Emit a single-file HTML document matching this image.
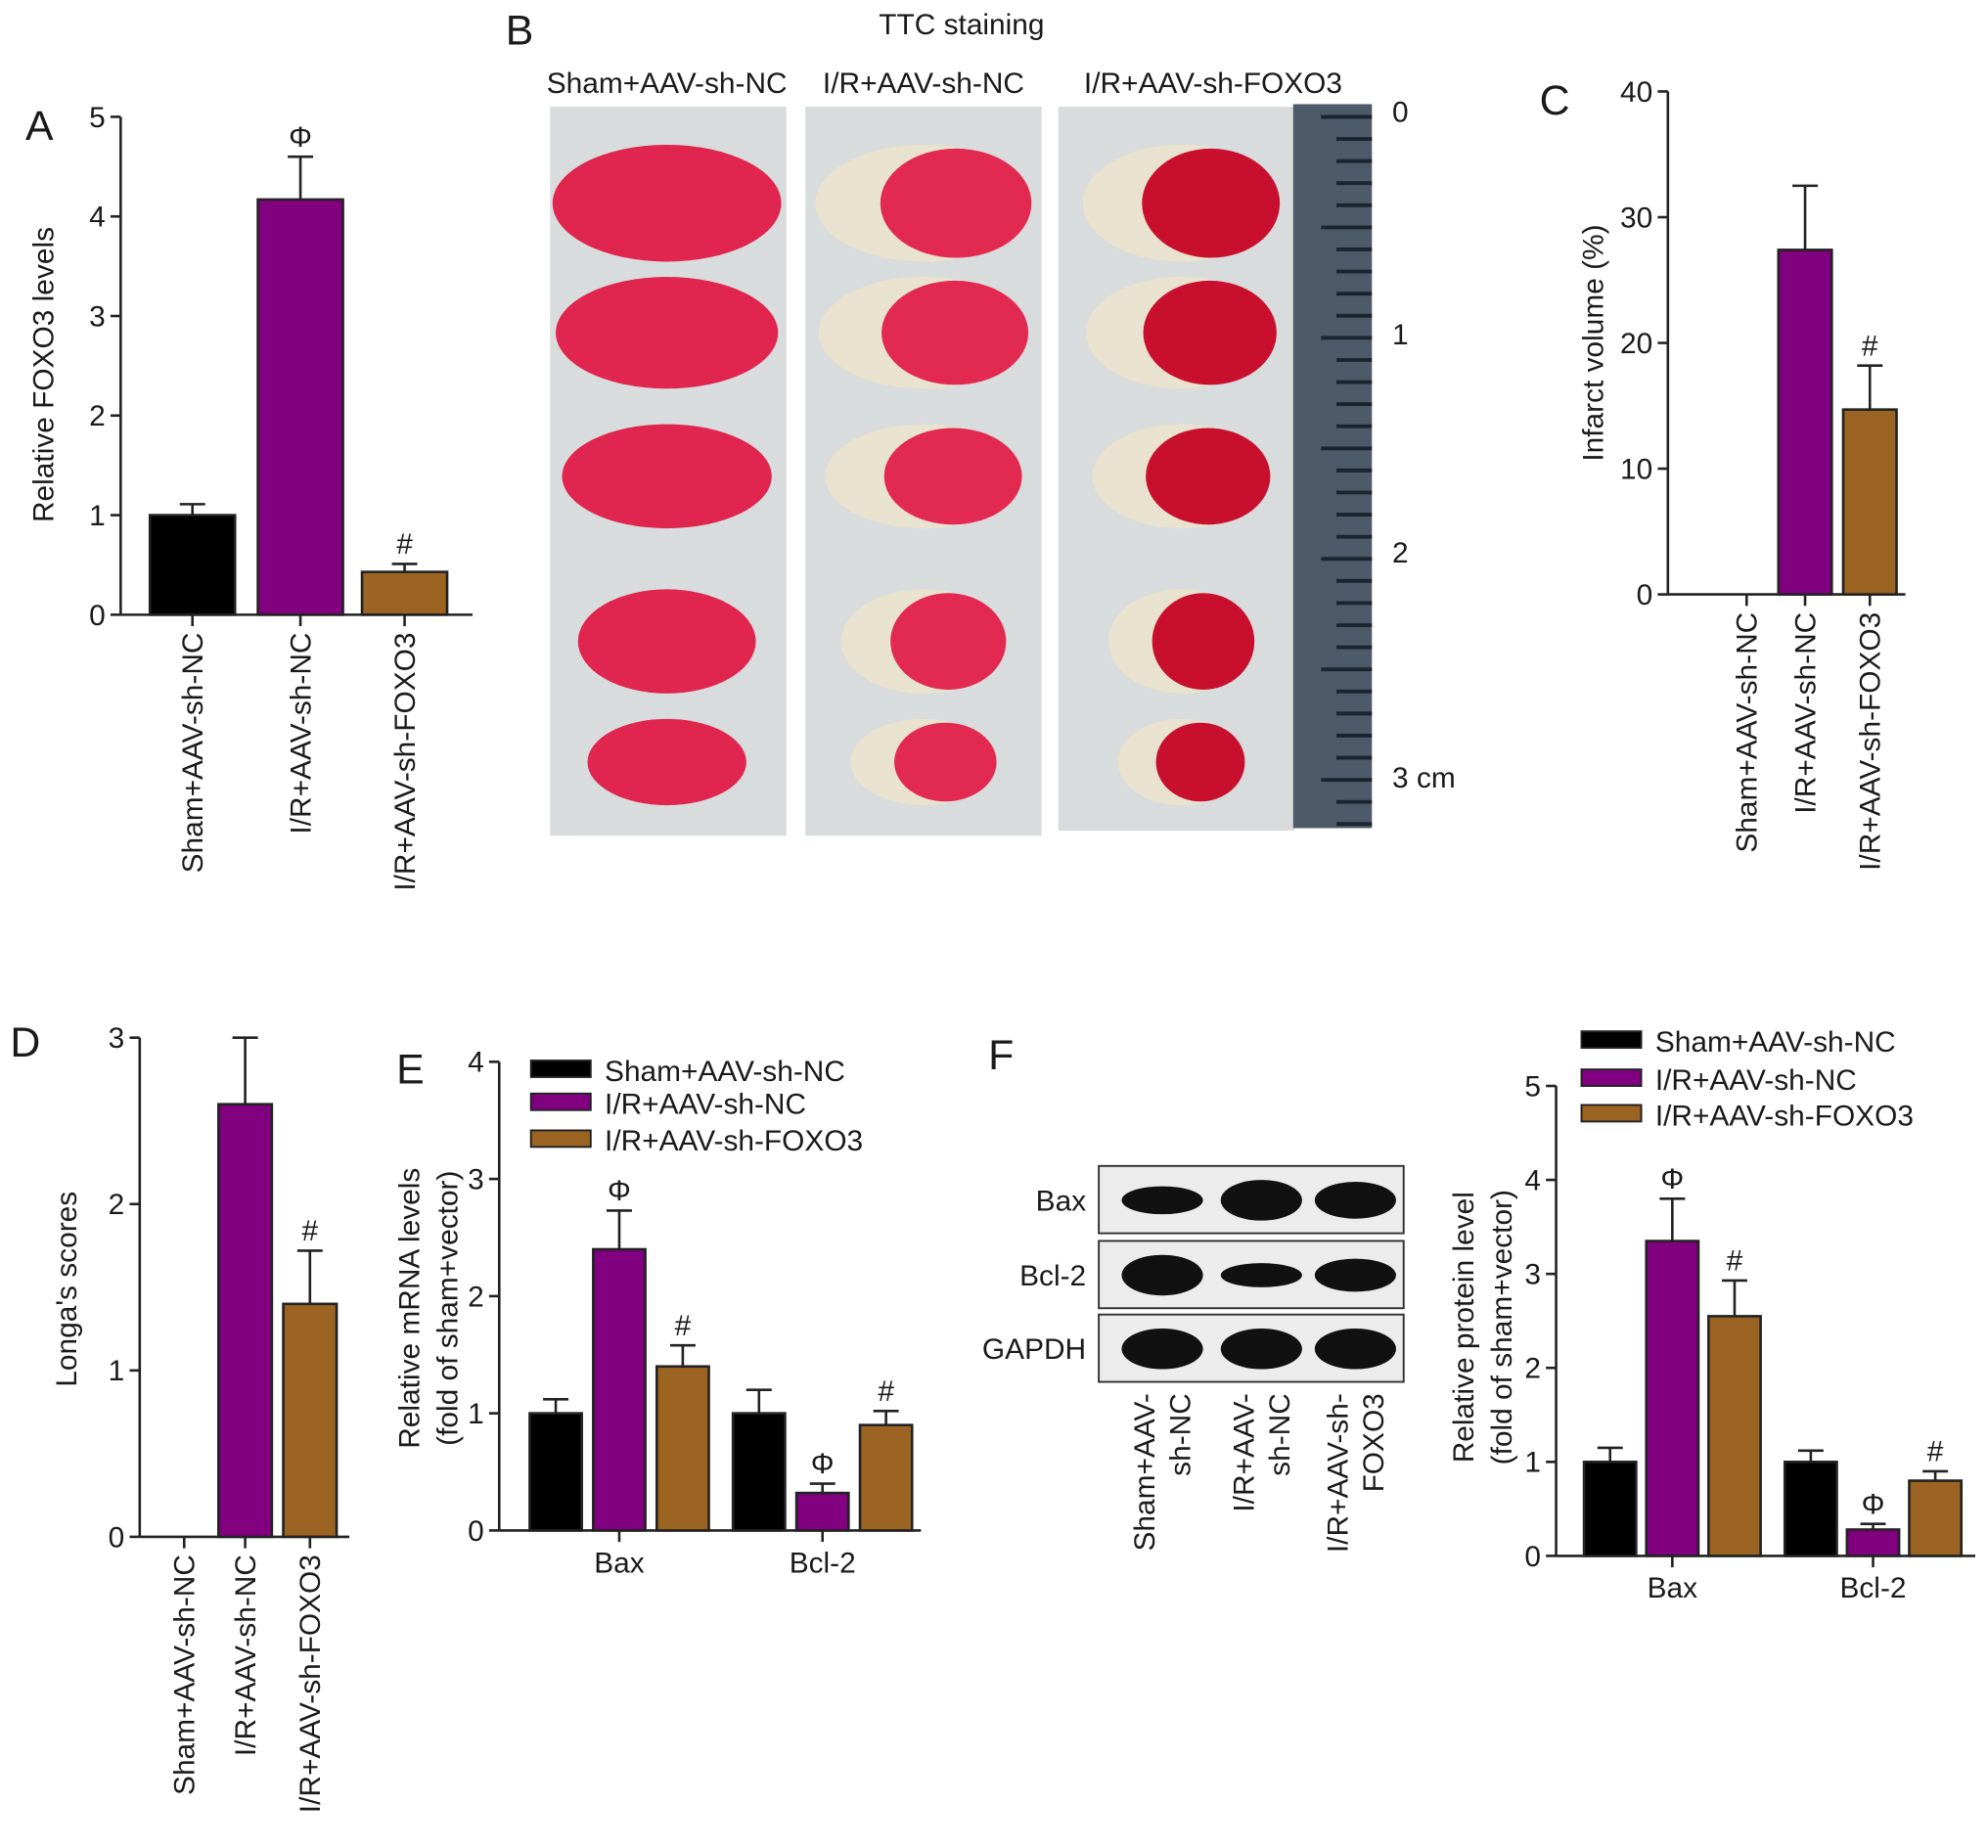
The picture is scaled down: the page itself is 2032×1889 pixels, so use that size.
<!DOCTYPE html>
<html><head><meta charset="utf-8"><style>
html,body{margin:0;padding:0;background:#fff}
svg{display:block}
text{font-family:"Liberation Sans",Arial,sans-serif;fill:#1a1a1a}
</style></head><body>
<svg id="fig" width="2032" height="1889" viewBox="0 0 1565 1455" preserveAspectRatio="none" xmlns="http://www.w3.org/2000/svg">
<g id="panelB">
<text x="398" y="35" font-size="33">B</text>
<text x="757" y="27" font-size="23" text-anchor="middle">TTC staining</text>
<text x="525" y="73" font-size="23" text-anchor="middle">Sham+AAV-sh-NC</text>
<text x="727" y="73" font-size="23" text-anchor="middle">I/R+AAV-sh-NC</text>
<text x="955" y="73" font-size="23" text-anchor="middle">I/R+AAV-sh-FOXO3</text>
<rect x="433" y="84" width="186" height="574" fill="#d9dcdd"/>
<rect x="634" y="84" width="186" height="574" fill="#d9dcdd"/>
<rect x="833" y="84" width="186" height="570" fill="#d9dcdd"/>
<rect x="1018" y="82" width="62" height="570" fill="#4c5a6a"/>
<g id="rulerTicks"></g>
<g id="slices"></g>
<text x="1096" y="96" font-size="23">0</text>
<text x="1096" y="271" font-size="23">1</text>
<text x="1096" y="443" font-size="23">2</text>
<text x="1096" y="620" font-size="23">3 cm</text>
</g>
<g id="charts"></g>
<g id="blot">
<text x="778" y="842" font-size="33">F</text>
</g>
</svg>
<script>
var NS='http://www.w3.org/2000/svg';
function mk(tag,attrs,parent,txt){var e=document.createElementNS(NS,tag);for(var k in attrs)e.setAttribute(k,attrs[k]);if(txt!==undefined)e.textContent=txt;parent.appendChild(e);return e;}
var COLORS=['#000000','#800080','#9b6422'];
var groupsShort=['Sham+AAV-sh-NC','I/R+AAV-sh-NC','I/R+AAV-sh-FOXO3'];

// Panel A data
var aValues=[1.0,4.17,0.43];
var aErrors=[0.11,0.43,0.08];
var aMarks=['','Φ','#'];
var aTicks=[0,1,2,3,4,5];
// Panel C data
var cValues=[0,27.4,14.7];
var cErrors=[0,5.1,3.5];
var cMarks=['','','#'];
var cTicks=[0,10,20,30,40];
// Panel D data
var dValues=[0,2.6,1.4];
var dErrors=[0,0.4,0.32];
var dMarks=['','','#'];
var dTicks=[0,1,2,3];
// Panel E data
var eCategories=['Bax','Bcl-2'];
var eSham=[1.0,1.0], eShamErr=[0.12,0.2];
var eIR=[2.4,0.32], eIRErr=[0.33,0.08];
var eFox=[1.4,0.9], eFoxErr=[0.18,0.12];
var eMarks=[['','Φ','#'],['','Φ','#']];
var eTicks=[0,1,2,3,4];
// Panel F data
var fCategories=['Bax','Bcl-2'];
var fSham=[1.0,1.0], fShamErr=[0.15,0.12];
var fIR=[3.35,0.28], fIRErr=[0.45,0.06];
var fFox=[2.55,0.8], fFoxErr=[0.38,0.1];
var fMarks=[['','Φ','#'],['','Φ','#']];
var fTicks=[0,1,2,3,4,5];

var root=document.getElementById('charts');

function axes(g,ax,y0,yTop,max,ticks,xEnd){
  var sc=function(v){return y0-(v/max)*(y0-yTop);};
  var l=mk('line',{x1:ax,y1:yTop,x2:ax,y2:y0,stroke:'#222','stroke-width':2},g);
  
  
  var xl=mk('line',{x1:ax,y1:y0,x2:xEnd,y2:y0,stroke:'#222','stroke-width':2},g);
  
  
  ticks.forEach(function(t){
    var y=sc(t);
    mk('line',{x1:ax-8,y1:y,x2:ax,y2:y,stroke:'#222','stroke-width':2},g);
    var tx=mk('text',{x:ax-12,y:y+8,'font-size':23,'text-anchor':'end'},g,String(t));
    
    
  });
  return sc;
}
function bar(g,x,w,v,err,sc,color,mark,y0){
  var top=sc(v);
  if(v>0){
    var r=mk('rect',{x:x,y:top,width:w,height:y0-top,fill:color,stroke:'#222','stroke-width':2},g);
    
    
  }
  if(err>0){
    var ey=sc(v+err);
    mk('line',{x1:x+w/2,y1:top,x2:x+w/2,y2:ey,stroke:'#222','stroke-width':2},g);
    mk('line',{x1:x+w/2-10,y1:ey,x2:x+w/2+10,y2:ey,stroke:'#222','stroke-width':2},g);
    if(mark){
      var m=mk('text',{x:x+w/2,y:ey-8,'font-size':23,'text-anchor':'middle','font-family':'Liberation Serif'},g,mark);
      
      
    }
  }
}
function rotLabel(g,x,yTop,txt,name){
  var t=mk('text',{x:0,y:0,'font-size':23,'text-anchor':'end',transform:'translate('+(x+8)+','+yTop+') rotate(-90)'},g,txt);
  
  
}
function yTitle(g,x,y,lines,name){
  lines.forEach(function(s,i){
    var t=mk('text',{x:0,y:0,'font-size':23,'text-anchor':'middle',transform:'translate('+(x+i*30)+','+y+') rotate(-90)'},g,s);
    
    
  });
}
function panelLabel(g,x,y,s){
  var t=mk('text',{x:x,y:y,'font-size':33},g,s);
  
  
}
function simpleChart(name,lbl,lx,ly,ax,y0,yTop,ticks,vals,errs,marks,barX,bw,xEnd,title,tx,ty){
  var g=mk('g',{},root);
  
  
  panelLabel(g,lx,ly,lbl);
  var sc=axes(g,ax,y0,yTop,ticks[ticks.length-1],ticks,xEnd);
  vals.forEach(function(v,i){
    bar(g,barX[i],bw,v,errs[i],sc,COLORS[i],marks[i],y0);
    mk('line',{x1:barX[i]+bw/2,y1:y0,x2:barX[i]+bw/2,y2:y0+9,stroke:'#222','stroke-width':2},g);
    rotLabel(g,barX[i]+bw/2,y0+14,groupsShort[i],'x-category-label');
  });
  yTitle(g,tx,ty,title,'y-axis-title');
}
simpleChart('chart-a','A',20,110,95,484,92,aTicks,aValues,aErrors,aMarks,[118,203,285],67,372,['Relative FOXO3 levels'],42,295);
simpleChart('chart-c','C',1212,90,1313,468,72,cTicks,cValues,cErrors,cMarks,[1354,1400,1451],42,1500,['Infarct volume (%)'],1262,270);
simpleChart('chart-d','D',8,832,110,1210,817,dTicks,dValues,dErrors,dMarks,[124,172,223],42,275,["Longa's scores"],60,1015);

function groupChart(name,ax,y0,yTop,ticks,cats,s0,e0,s1,e1,s2,e2,marks,groupX,bw,gap,xEnd,titles,tx,ty,legX,legY){
  var g=mk('g',{},root);
  
  
  var sc=axes(g,ax,y0,yTop,ticks[ticks.length-1],ticks,xEnd);
  var S=[s0,s1,s2],E=[e0,e1,e2];
  cats.forEach(function(c,ci){
    for(var k=0;k<3;k++){
      var x=groupX[ci]+k*(bw+gap);
      bar(g,x,bw,S[k][ci],E[k][ci],sc,COLORS[k],marks[ci][k],y0);
    }
    var cx=groupX[ci]+1.5*bw+gap;
    mk('line',{x1:cx,y1:y0,x2:cx,y2:y0+9,stroke:'#222','stroke-width':2},g);
    var t=mk('text',{x:cx,y:y0+33,'font-size':23,'text-anchor':'middle'},g,c);
    
    
  });
  yTitle(g,tx,ty,titles,'y-axis-title');
  groupsShort.forEach(function(s,i){
    var r=mk('rect',{x:legX,y:legY[i]-8,width:47,height:13,fill:COLORS[i],stroke:'#222','stroke-width':1.5},g);
    
    
    var t=mk('text',{x:legX+58,y:legY[i]+8,'font-size':23},g,s);
    
    
  });
}
panelLabel(root,312,853,'E');
groupChart('chart-e',393,1205,836,eTicks,eCategories,eSham,eShamErr,eIR,eIRErr,eFox,eFoxErr,eMarks,[417,577],41,9,725,['Relative mRNA levels','(fold of sham+vector)'],330,1030,418,[843,869,898]);
groupChart('chart-f',1225,1225,855,fTicks,fCategories,fSham,fShamErr,fIR,fIRErr,fFox,fFoxErr,fMarks,[1247,1405],41,8,1555,['Relative protein level','(fold of sham+vector)'],1160,1045,1245,[820,850,878]);

// ruler ticks
var rt=document.getElementById('rulerTicks');
for(var i=0;i<33;i++){
  var y=92+i*17.4;
  mk('line',{x1:1080-(i%5==0?40:28),y1:y,x2:1080,y2:y,stroke:'#1c2430','stroke-width':3},rt);
}
// brain slices
var sl=document.getElementById('slices');
var sliceY=[160,262,375,505,600], sliceW=[180,175,165,140,125], sliceH=[92,88,82,82,68];
[[525,0],[727,1],[930,2]].forEach(function(c){
  sliceY.forEach(function(y,j){
    var w=sliceW[j]-(c[1]==2?25:10*c[1]),h=sliceH[j];
    if(c[1]==0){
      mk('ellipse',{cx:c[0],cy:y,rx:w/2,ry:h/2,fill:'#e0254f'},sl);
    }else{
      mk('ellipse',{cx:c[0],cy:y,rx:w/2,ry:h/2,fill:'#e8e2cf'},sl);
      var fill=c[1]==1?'#e22a50':'#c8102e';
      mk('ellipse',{cx:c[0]+w*0.15,cy:y,rx:w*0.35,ry:h/2-3,fill:fill},sl);
    }
  });
});
// blot
var b=document.getElementById('blot');
var rows=[['Bax',918,[0.5,1,0.85]],['Bcl-2',977,[1,0.35,0.7]],['GAPDH',1035,[1,1,1]]];
var lanes=[915,993,1067];
rows.forEach(function(r){
  var bx=mk('rect',{x:865,y:r[1],width:240,height:53,fill:'#ececec',stroke:'#333','stroke-width':1.5},b);
  
  
  var t=mk('text',{x:855,y:r[1]+35,'font-size':23,'text-anchor':'end'},b,r[0]);
  
  
  lanes.forEach(function(lx,i){
    var k=r[2][i];
    mk('ellipse',{cx:lx,cy:r[1]+27,rx:32,ry:6+10*k,fill:'#111'},b);
  });
});
var laneLab=[['Sham+AAV-','sh-NC'],['I/R+AAV-','sh-NC'],['I/R+AAV-sh-','FOXO3']];
lanes.forEach(function(lx,i){
  laneLab[i].forEach(function(s,j){
    var t=mk('text',{x:0,y:0,'font-size':23,'text-anchor':'end',transform:'translate('+(lx-6+j*28)+',1097) rotate(-90)'},b,s);
    
    
  });
});
</script>
</body></html>
